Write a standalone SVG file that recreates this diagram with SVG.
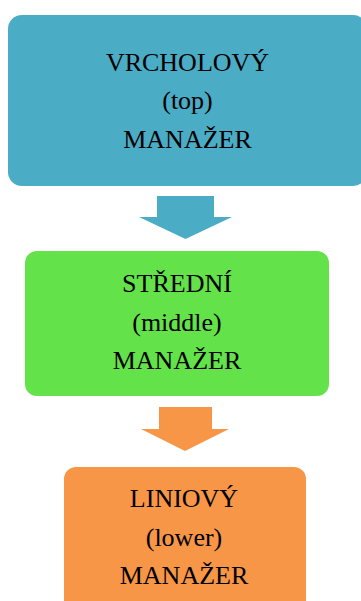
<svg xmlns="http://www.w3.org/2000/svg" width="361" height="601" viewBox="0 0 361 601">
<style>
text{font-family:"Liberation Serif","Times New Roman",serif;font-size:26px;fill:#000;text-anchor:middle}
</style>
<rect width="361" height="601" fill="#fff"/>
<g id="connectors">
<polygon points="157,196 214,196 214,217 232,217 185.5,239 139,217 157,217" fill="#4BACC6"/>
<polygon points="159,407 212,407 212,429 229,429 185,451 141,429 159,429" fill="#F79646"/>
</g>
<g id="top">
<rect x="8" y="15" width="359" height="171" rx="14" fill="#4BACC6"/>
<text x="187.5" y="71">VRCHOLOVÝ</text>
<text x="187.5" y="109">(top)</text>
<text x="187.5" y="148">MANAŽER</text>
</g>
<g id="middle">
<rect x="25" y="251" width="304" height="145" rx="12" fill="#63E24A"/>
<text x="177" y="292">STŘEDNÍ</text>
<text x="177" y="331">(middle)</text>
<text x="177" y="369">MANAŽER</text>
</g>
<g id="lower">
<rect x="64" y="467" width="242" height="150" rx="12" fill="#F79646"/>
<text x="184" y="507">LINIOVÝ</text>
<text x="184" y="546">(lower)</text>
<text x="184" y="584">MANAŽER</text>
</g>
</svg>
